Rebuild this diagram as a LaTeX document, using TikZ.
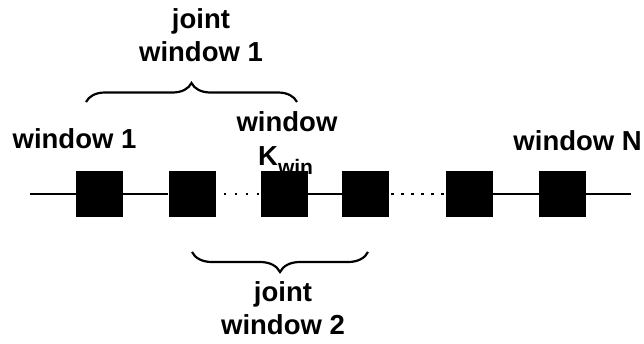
\documentclass[tikz,border=0pt]{standalone}
\usepackage{fontspec}
\setmainfont{Liberation Sans}
\usetikzlibrary{decorations.pathreplacing}
\begin{document}
\begin{tikzpicture}[x=1pt,y=-1pt,
 blk/.style={fill=black,minimum width=47pt,minimum height=46pt,inner sep=0pt},
 lbl/.style={font=\bfseries\fontsize{27.5}{33}\selectfont,inner sep=0pt,align=center},
 wire/.style={line width=2.2pt},
 dotwire/.style={line width=2.2pt,dash pattern=on 2pt off 9pt},
 brc/.style={decorate,decoration={brace,amplitude=19pt},line width=2.2pt}]
\useasboundingbox (0,0) rectangle (644,343);
% boxes
\node[blk] (b1) at (99.5,194) {};
\node[blk] (b2) at (192,194) {};
\node[blk] (b3) at (284.5,194) {};
\node[blk] (b4) at (365.5,194) {};
\node[blk] (b5) at (469.5,194) {};
\node[blk] (b6) at (562.5,194) {};
\coordinate (ls) at (30,194);
\coordinate (le) at (631,194);
% connectors
\draw[wire] (ls) -- (b1);
\draw[wire] (b1) -- (b2);
\draw[dotwire,dash phase=-8pt] (b2) -- (b3);
\draw[wire] (b3) -- (b4);
\draw[dotwire,dash pattern=on 2.5pt off 7.5pt,dash phase=-2pt] (b4) -- (b5);
\draw[wire] (b5) -- (b6);
\draw[wire] (b6) -- (le);
% labels
\node[lbl,anchor=south] (jw1) at (201,62) {joint\\window 1};
\node[lbl,anchor=base] (w1) at (74.5,148) {window 1};
\node[lbl,anchor=base] (wk) at (287,131) {window};
\node[lbl,anchor=base west] (kw) at (258,165) {K\raisebox{-9pt}{\fontsize{21}{21}\selectfont win}};
\node[lbl,anchor=base east] (wn) at (642,150) {window N};
\node[lbl,anchor=south] (jw2) at (283,335) {joint\\window 2};
% braces
\coordinate (t1) at (86,102);
\coordinate (t2) at (297,102);
\coordinate (u1) at (368,252);
\coordinate (u2) at (192,252);
\draw[brc] (t1) -- (t2);
\draw[brc,decoration={brace,amplitude=20pt}] (u1) -- (u2);
\end{tikzpicture}
\end{document}
